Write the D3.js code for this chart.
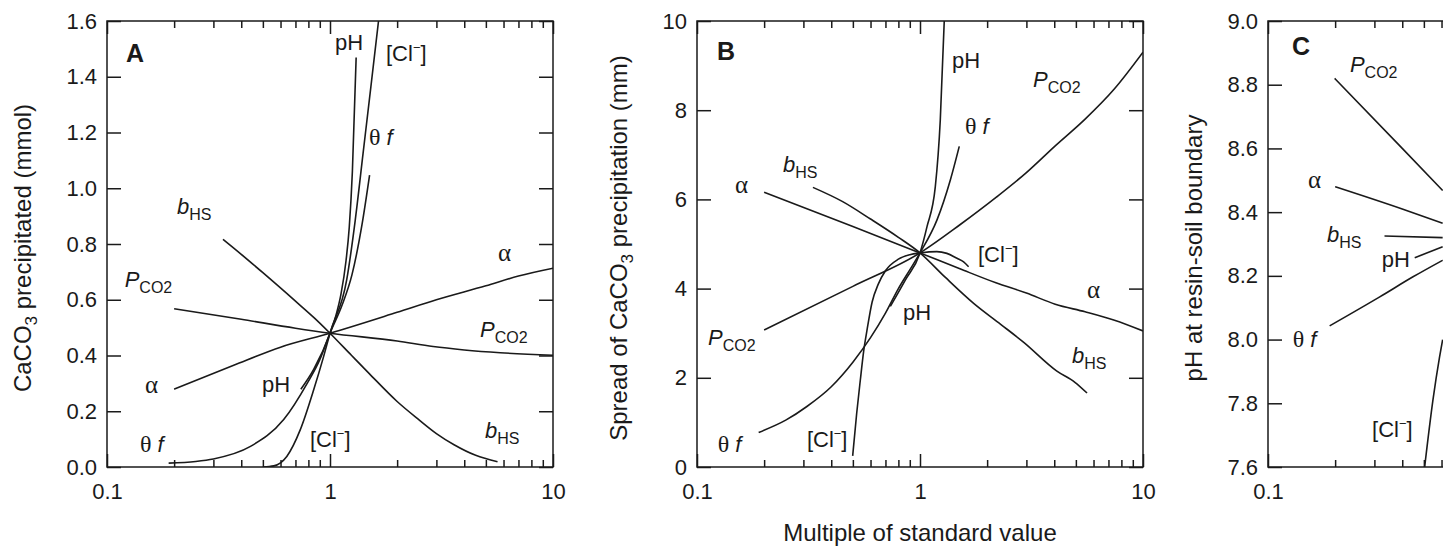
<!DOCTYPE html>
<html>
<head>
<meta charset="utf-8">
<script src="https://cdn.jsdelivr.net/npm/d3@7"></script>
<style>
  body { margin: 0; background: #fff; }
  svg { display: block; }
  text { font-family: "Liberation Sans", Arial, sans-serif; fill: #1a1a1a; }
</style>
</head>
<body>
<div id="chart"></div>
<script>
// x = multiple of standard value, y = response
// Panel A: CaCO3 precipitated (mmol)
const aAlpha = [[0.2,0.279],[0.37,0.365],[0.6,0.43],[1,0.48],[2,0.555],[3,0.6],[5,0.65],[7,0.685],[10,0.713]];
const aPco2 = [[0.2,0.568],[0.4,0.53],[0.7,0.498],[1,0.48],[2,0.452],[2.9,0.432],[4,0.42],[5.8,0.41],[10,0.401]];
const aBhs = [[0.331,0.817],[0.4,0.763],[0.5,0.697],[0.7,0.595],[0.85,0.535],[1,0.48],[1.25,0.40],[1.5,0.335],[2,0.235],[2.5,0.17],[3,0.12],[3.6,0.08],[4.5,0.042],[5.64,0.019]];
const aThetaf = [[0.189,0.014],[0.25,0.02],[0.3,0.029],[0.44,0.074],[0.62,0.17],[0.79,0.30],[0.9,0.385],[1,0.48],[1.132,0.58],[1.255,0.69],[1.392,0.87],[1.505,1.047]];
const aPh = [[0.74,0.279],[0.845,0.35],[1,0.48],[1.06,0.54],[1.12,0.62],[1.18,0.74],[1.22,0.86],[1.26,1.06],[1.31,1.469]];
const aCl = [[0.5,0],[0.56,0.004],[0.6,0.015],[0.64,0.038],[0.736,0.134],[0.845,0.277],[0.936,0.396],[1,0.48],[1.188,0.671],[1.298,0.886],[1.407,1.125],[1.525,1.364],[1.652,1.603]];

// Panel B: spread of CaCO3 precipitation (mm)
const bAlpha = [[0.2,6.16],[0.5,5.39],[1,4.8],[1.5,4.45],[2.19,4.13],[3,3.9],[4.04,3.65],[5.5,3.48],[7.45,3.29],[10,3.05]];
const bPco2 = [[0.2,3.07],[0.5,4.05],[1,4.8],[1.5,5.42],[2.2,6.05],[3,6.6],[4.04,7.2],[5.5,7.8],[7.45,8.48],[10,9.3]];
const bBhs = [[0.331,6.27],[0.45,5.95],[0.6,5.56],[0.8,5.15],[1,4.8],[1.3,4.25],[1.74,3.67],[2.3,3.2],[2.91,2.8],[4.11,2.15],[4.95,1.9],[5.61,1.66]];
const bThetaf = [[0.189,0.775],[0.25,1.05],[0.311,1.357],[0.4,1.8],[0.5,2.35],[0.6,2.9],[0.7,3.45],[0.8,4.0],[0.9,4.42],[1,4.8],[1.192,5.54],[1.367,6.43],[1.5,7.19]];
const bPh = [[0.736,3.6],[0.859,4.19],[1,4.8],[1.075,5.39],[1.171,6.28],[1.233,7.78],[1.285,10.02]];
const bCl = [[0.499,0.25],[0.52,1.2],[0.54,1.95],[0.559,2.6],[0.58,3.1],[0.61,3.7],[0.65,4.1],[0.7,4.4],[0.8,4.66],[0.9,4.76],[1,4.8],[1.19,4.83],[1.32,4.79],[1.465,4.68],[1.569,4.6],[1.652,4.49]];

// Panel C: pH at resin-soil boundary (only the left part is visible)
const cPco2 = [[0.199,8.82],[0.4,8.6],[0.607,8.468]];
const cAlpha = [[0.2,8.48],[0.4,8.41],[0.607,8.365]];
const cBhs = [[0.333,8.325],[0.607,8.32]];
const cPh = [[0.455,8.257],[0.607,8.291]];
const cThetaf = [[0.189,8.043],[0.317,8.134],[0.447,8.197],[0.607,8.249]];
const cCl = [[0.504,7.6],[0.549,7.81],[0.588,7.946],[0.607,8.0]];

// ticks
const xMajor = [0.1, 1, 10];
const xMinor = [0.2,0.3,0.4,0.5,0.6,0.7,0.8,0.9,2,3,4,5,6,7,8,9];
const aTicks = [0,0.2,0.4,0.6,0.8,1.0,1.2,1.4,1.6];
const bTicks = [0,2,4,6,8,10];
const cTicks = [7.6,7.8,8.0,8.2,8.4,8.6,8.8,9.0];

const W = 1443, H = 554;
const plotW = 446, plotH = 446, plotTop = 21;
const ink = '#1a1a1a';

const svg = d3.select('#chart').append('svg')
  .attr('width', W)
  .attr('height', H);

function addLabel(g, kind, x, y) {
  const t = g.append('text').attr('x', x).attr('y', y).style('font-size', '22px');
  if (kind === 'pH') {
    t.text('pH');
  } else if (kind === 'Cl') {
    t.append('tspan').text('[Cl');
    t.append('tspan').attr('dy', -9).style('font-size', '13px').text('\u2212');
    t.append('tspan').attr('dy', 9).text(']');
  } else if (kind === 'bHS' || kind === 'PCO2') {
    t.append('tspan').style('font-style', 'italic').text(kind === 'bHS' ? 'b' : 'P');
    t.append('tspan').attr('dy', 6).style('font-size', '16px').text(kind === 'bHS' ? 'HS' : 'CO2');
  } else if (kind === 'alpha') {
    t.append('tspan').style('font-family', '"Liberation Serif", serif').style('font-size', '25px').text('\u03b1');
  } else if (kind === 'thetaf') {
    t.append('tspan').style('font-family', '"Liberation Serif", serif').style('font-size', '24px').text('\u03b8');
    t.append('tspan').attr('dx', 6).style('font-style', 'italic').text('f');
  }
}

function styleAxis(g) {
  g.attr('font-family', null).attr('font-size', null);
  g.select('.domain').remove();
  g.selectAll('.tick line').attr('stroke', ink).attr('stroke-width', 1.5);
  g.selectAll('.tick text').style('font-size', '22px');
}

function drawPanel(p) {
  const x = d3.scaleLog().domain([0.1, 10]).range([0, plotW]);
  const y = d3.scaleLinear().domain(p.yDomain).range([plotH, 0]);

  const g = svg.append('g').attr('transform', `translate(${p.left},${plotTop})`);

  const clipId = 'clip-' + p.letter;
  g.append('clipPath').attr('id', clipId)
    .append('rect').attr('width', plotW).attr('height', plotH);

  // only label the decades that fall inside the window
  const xFmt = d => (p.left + x(d) < W - 10 ? d3.format('~g')(d) : '');

  // Axes, ticks pointing inwards
  g.append('g').attr('transform', `translate(0,${plotH})`)
    .call(d3.axisBottom(x).tickValues(xMajor).tickSizeInner(-13).tickSizeOuter(0).tickPadding(16).tickFormat(xFmt))
    .call(styleAxis);
  g.append('g').attr('transform', `translate(0,${plotH})`)
    .call(d3.axisBottom(x).tickValues(xMinor).tickSizeInner(-7).tickSizeOuter(0).tickFormat(''))
    .call(styleAxis);
  g.append('g')
    .call(d3.axisTop(x).tickValues(xMajor).tickSizeInner(-13).tickSizeOuter(0).tickFormat(''))
    .call(styleAxis);
  g.append('g')
    .call(d3.axisTop(x).tickValues(xMinor).tickSizeInner(-7).tickSizeOuter(0).tickFormat(''))
    .call(styleAxis);
  g.append('g')
    .call(d3.axisLeft(y).tickValues(p.yTicks).tickSizeInner(-14).tickSizeOuter(0).tickPadding(10).tickFormat(d3.format(p.fmt)))
    .call(styleAxis);
  g.append('g').attr('transform', `translate(${plotW},0)`)
    .call(d3.axisRight(y).tickValues(p.yTicks).tickSizeInner(-14).tickSizeOuter(0).tickFormat(''))
    .call(styleAxis);

  g.append('rect')
    .attr('width', plotW).attr('height', plotH)
    .attr('fill', 'none').attr('stroke', ink).attr('stroke-width', 1.5);

  // Curves
  const line = d3.line()
    .x(d => x(d[0]))
    .y(d => y(d[1]))
    .curve(d3.curveMonotoneX);

  g.append('g').attr('clip-path', `url(#${clipId})`)
    .selectAll('path')
    .data(p.series)
    .join('path')
    .attr('d', line)
    .attr('fill', 'none')
    .attr('stroke', ink)
    .attr('stroke-width', 1.6)
    .attr('stroke-linejoin', 'round');

  // Curve labels
  p.labels.forEach(l => addLabel(g, l[0], x(l[1]), y(l[2])));

  // Panel letter
  g.append('text')
    .attr('x', p.letterPos[0]).attr('y', p.letterPos[1])
    .style('font-size', '25px').style('font-weight', 'bold')
    .text(p.letter);

  // Y title (with optional subscript part)
  const t = svg.append('text')
    .attr('transform', `translate(${p.titleX},${plotTop + plotH / 2 + 4}) rotate(-90)`)
    .attr('text-anchor', 'middle')
    .style('font-size', '24px');
  let shift = 0;
  p.title.forEach(part => {
    if (typeof part === 'string') {
      t.append('tspan').attr('dy', -shift).text(part);
      shift = 0;
    } else {
      t.append('tspan').attr('dy', 6).style('font-size', '17px').text(part.sub);
      shift = 6;
    }
  });
}

const panels = [
  {
    letter: 'A', left: 107, yDomain: [0, 1.6], yTicks: aTicks, fmt: '.1f',
    letterPos: [19, 41], titleX: 31,
    title: ['CaCO', { sub: '3' }, ' precipitated (mmol)'],
    series: [aAlpha, aPco2, aBhs, aThetaf, aPh, aCl],
    labels: [
      ['pH', 1.053, 1.496], ['Cl', 1.783, 1.456], ['thetaf', 1.496, 1.155],
      ['bHS', 0.206, 0.908], ['alpha', 5.67, 0.739], ['PCO2', 0.12, 0.646],
      ['PCO2', 4.71, 0.466], ['alpha', 0.148, 0.265], ['pH', 0.496, 0.269],
      ['thetaf', 0.1406, 0.054], ['Cl', 0.813, 0.072], ['bHS', 4.955, 0.104]
    ]
  },
  {
    letter: 'B', left: 697, yDomain: [0, 10], yTicks: bTicks, fmt: 'd',
    letterPos: [20, 39], titleX: 627,
    title: ['Spread of CaCO', { sub: '3' }, ' precipitation (mm)'],
    series: [bAlpha, bPco2, bBhs, bThetaf, bPh, bCl],
    labels: [
      ['pH', 1.39, 8.95], ['PCO2', 3.21, 8.52], ['thetaf', 1.59, 7.47],
      ['bHS', 0.243, 6.61], ['alpha', 0.148, 6.14], ['Cl', 1.82, 4.60],
      ['alpha', 5.61, 3.79], ['pH', 0.839, 3.30], ['PCO2', 0.112, 2.74],
      ['bHS', 4.80, 2.33], ['thetaf', 0.124, 0.336], ['Cl', 0.311, 0.448]
    ]
  },
  {
    letter: 'C', left: 1268, yDomain: [7.6, 9.0], yTicks: cTicks, fmt: '.1f',
    letterPos: [24, 34], titleX: 1202,
    title: ['pH at resin-soil boundary'],
    series: [cPco2, cAlpha, cBhs, cPh, cThetaf, cCl],
    labels: [
      ['PCO2', 0.233, 8.84], ['alpha', 0.151, 8.476], ['bHS', 0.184, 8.306],
      ['pH', 0.324, 8.228], ['thetaf', 0.129, 7.977], ['Cl', 0.293, 7.694]
    ]
  }
];

panels.forEach(drawPanel);

// Shared x-axis title, centred under panel B
svg.append('text')
  .attr('x', 697 + plotW / 2)
  .attr('y', 541)
  .attr('text-anchor', 'middle')
  .style('font-size', '24px')
  .text('Multiple of standard value');
</script>
</body>
</html>
